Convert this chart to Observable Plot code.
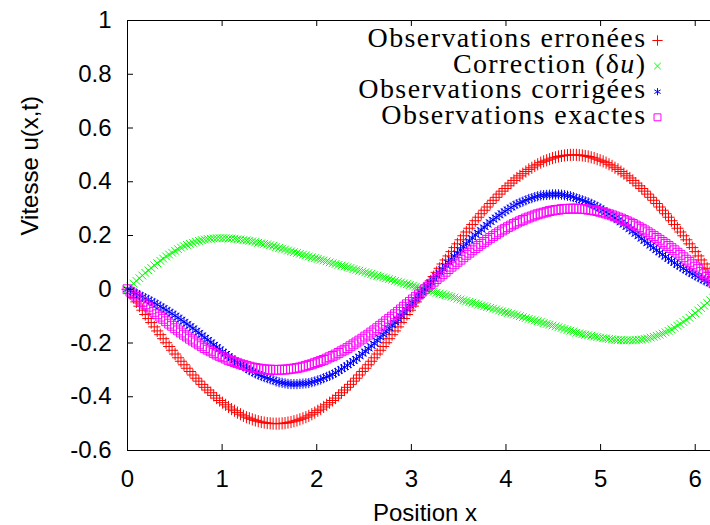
<!DOCTYPE html>
<html><head><meta charset="utf-8">
<script src="https://cdn.jsdelivr.net/npm/d3@7"></script>
<script src="https://cdn.jsdelivr.net/npm/@observablehq/plot@0.6"></script>
<style>
html,body{margin:0;padding:0;background:#fff;overflow:hidden;}
</style></head><body><div id="chart"></div>
<script>
const xs = [0,0.031,0.063,0.094,0.126,0.157,0.188,0.220,0.251,0.283,
0.314,0.346,0.377,0.408,0.440,0.471,0.503,0.534,0.565,0.597,
0.628,0.660,0.691,0.723,0.754,0.785,0.817,0.848,0.880,0.911,
0.942,0.974,1.005,1.037,1.068,1.100,1.131,1.162,1.194,1.225,
1.257,1.288,1.319,1.351,1.382,1.414,1.445,1.477,1.508,1.539,
1.571,1.602,1.634,1.665,1.696,1.728,1.759,1.791,1.822,1.854,
1.885,1.916,1.948,1.979,2.011,2.042,2.073,2.105,2.136,2.168,
2.199,2.231,2.262,2.293,2.325,2.356,2.388,2.419,2.450,2.482,
2.513,2.545,2.576,2.608,2.639,2.670,2.702,2.733,2.765,2.796,
2.827,2.859,2.890,2.922,2.953,2.985,3.016,3.047,3.079,3.110,
3.142,3.173,3.204,3.236,3.267,3.299,3.330,3.362,3.393,3.424,
3.456,3.487,3.519,3.550,3.581,3.613,3.644,3.676,3.707,3.738,
3.770,3.801,3.833,3.864,3.896,3.927,3.958,3.990,4.021,4.053,
4.084,4.115,4.147,4.178,4.210,4.241,4.273,4.304,4.335,4.367,
4.398,4.430,4.461,4.492,4.524,4.555,4.587,4.618,4.650,4.681,
4.712,4.744,4.775,4.807,4.838,4.869,4.901,4.932,4.964,4.995,
5.027,5.058,5.089,5.121,5.152,5.184,5.215,5.246,5.278,5.309,
5.341,5.372,5.404,5.435,5.466,5.498,5.529,5.561,5.592,5.623,
5.655,5.686,5.718,5.749,5.781,5.812,5.843,5.875,5.906,5.938,
5.969,6.000,6.032,6.063,6.095,6.126,6.158,6.189,6.220,6.252,
6.283];

const erronees = [0,-0.016,-0.031,-0.047,-0.063,-0.078,-0.094,-0.109,-0.124,-0.140,
-0.155,-0.169,-0.184,-0.199,-0.213,-0.227,-0.241,-0.255,-0.268,-0.281,
-0.294,-0.306,-0.319,-0.331,-0.342,-0.354,-0.365,-0.375,-0.385,-0.395,
-0.405,-0.414,-0.422,-0.430,-0.438,-0.446,-0.452,-0.459,-0.465,-0.471,
-0.476,-0.480,-0.484,-0.488,-0.491,-0.494,-0.496,-0.498,-0.499,-0.500,
-0.500,-0.500,-0.499,-0.498,-0.496,-0.494,-0.491,-0.488,-0.484,-0.480,
-0.476,-0.471,-0.465,-0.459,-0.452,-0.446,-0.438,-0.430,-0.422,-0.414,
-0.405,-0.395,-0.385,-0.375,-0.365,-0.354,-0.342,-0.331,-0.319,-0.306,
-0.294,-0.281,-0.268,-0.255,-0.241,-0.227,-0.213,-0.199,-0.184,-0.169,
-0.155,-0.140,-0.124,-0.109,-0.094,-0.078,-0.063,-0.047,-0.031,-0.016,
0,0.016,0.031,0.047,0.063,0.078,0.094,0.109,0.124,0.140,
0.155,0.169,0.184,0.199,0.213,0.227,0.241,0.255,0.268,0.281,
0.294,0.306,0.319,0.331,0.342,0.354,0.365,0.375,0.385,0.395,
0.405,0.414,0.422,0.430,0.438,0.446,0.452,0.459,0.465,0.471,
0.476,0.480,0.484,0.488,0.491,0.494,0.496,0.498,0.499,0.500,
0.500,0.500,0.499,0.498,0.496,0.494,0.491,0.488,0.484,0.480,
0.476,0.471,0.465,0.459,0.452,0.446,0.438,0.430,0.422,0.414,
0.405,0.395,0.385,0.375,0.365,0.354,0.342,0.331,0.319,0.306,
0.294,0.281,0.268,0.255,0.241,0.227,0.213,0.199,0.184,0.169,
0.155,0.140,0.124,0.109,0.094,0.078,0.063,0.047,0.031,0.016,
0];

const correction = [0,0.010,0.021,0.031,0.041,0.051,0.061,0.070,0.079,0.089,
0.097,0.106,0.114,0.122,0.129,0.136,0.143,0.149,0.155,0.160,
0.165,0.169,0.173,0.177,0.180,0.183,0.185,0.187,0.188,0.189,
0.190,0.190,0.190,0.190,0.189,0.189,0.188,0.186,0.185,0.183,
0.182,0.180,0.178,0.176,0.173,0.171,0.169,0.167,0.164,0.162,
0.157,0.154,0.151,0.148,0.144,0.141,0.138,0.135,0.132,0.129,
0.126,0.122,0.119,0.116,0.113,0.110,0.107,0.104,0.100,0.097,
0.094,0.091,0.088,0.085,0.082,0.079,0.075,0.072,0.069,0.066,
0.063,0.060,0.057,0.053,0.050,0.047,0.044,0.041,0.038,0.035,
0.031,0.028,0.025,0.022,0.019,0.016,0.013,0.009,0.006,0.003,
0,-0.003,-0.006,-0.009,-0.013,-0.016,-0.019,-0.022,-0.025,-0.028,
-0.031,-0.035,-0.038,-0.041,-0.044,-0.047,-0.050,-0.053,-0.057,-0.060,
-0.063,-0.066,-0.069,-0.072,-0.075,-0.079,-0.082,-0.085,-0.088,-0.091,
-0.094,-0.097,-0.100,-0.104,-0.107,-0.110,-0.113,-0.116,-0.119,-0.122,
-0.126,-0.129,-0.132,-0.135,-0.138,-0.141,-0.144,-0.148,-0.151,-0.154,
-0.157,-0.162,-0.164,-0.167,-0.169,-0.171,-0.173,-0.176,-0.178,-0.180,
-0.182,-0.183,-0.185,-0.186,-0.188,-0.189,-0.189,-0.190,-0.190,-0.190,
-0.190,-0.189,-0.188,-0.187,-0.185,-0.183,-0.180,-0.177,-0.173,-0.169,
-0.165,-0.160,-0.155,-0.149,-0.143,-0.136,-0.129,-0.122,-0.114,-0.106,
-0.097,-0.089,-0.079,-0.070,-0.061,-0.051,-0.041,-0.031,-0.021,-0.010,
0];

const corrigees = [0,-0.005,-0.011,-0.016,-0.022,-0.028,-0.033,-0.039,-0.045,-0.051,
-0.057,-0.064,-0.070,-0.077,-0.084,-0.091,-0.098,-0.106,-0.113,-0.121,
-0.129,-0.137,-0.145,-0.154,-0.162,-0.171,-0.180,-0.188,-0.197,-0.206,
-0.215,-0.223,-0.232,-0.240,-0.249,-0.257,-0.265,-0.273,-0.280,-0.287,
-0.294,-0.301,-0.307,-0.313,-0.318,-0.323,-0.327,-0.331,-0.335,-0.338,
-0.343,-0.346,-0.348,-0.350,-0.352,-0.353,-0.353,-0.353,-0.352,-0.351,
-0.350,-0.349,-0.346,-0.343,-0.339,-0.336,-0.331,-0.326,-0.322,-0.317,
-0.311,-0.304,-0.297,-0.290,-0.283,-0.275,-0.267,-0.259,-0.250,-0.240,
-0.231,-0.221,-0.211,-0.202,-0.191,-0.180,-0.169,-0.158,-0.146,-0.134,
-0.124,-0.112,-0.099,-0.087,-0.075,-0.062,-0.050,-0.038,-0.025,-0.013,
0,0.013,0.025,0.038,0.050,0.062,0.075,0.087,0.099,0.112,
0.124,0.134,0.146,0.158,0.169,0.180,0.191,0.202,0.211,0.221,
0.231,0.240,0.250,0.259,0.267,0.275,0.283,0.290,0.297,0.304,
0.311,0.317,0.322,0.326,0.331,0.336,0.339,0.343,0.346,0.349,
0.350,0.351,0.352,0.353,0.353,0.353,0.352,0.350,0.348,0.346,
0.343,0.338,0.335,0.331,0.327,0.323,0.318,0.313,0.307,0.301,
0.294,0.287,0.280,0.273,0.265,0.257,0.249,0.240,0.232,0.223,
0.215,0.206,0.197,0.188,0.180,0.171,0.162,0.154,0.145,0.137,
0.129,0.121,0.113,0.106,0.098,0.091,0.084,0.077,0.070,0.064,
0.057,0.051,0.045,0.039,0.033,0.028,0.022,0.016,0.011,0.005,
0];

const exactes = [0,-0.009,-0.019,-0.028,-0.038,-0.047,-0.056,-0.065,-0.075,-0.084,
-0.093,-0.102,-0.110,-0.119,-0.128,-0.136,-0.145,-0.153,-0.161,-0.169,
-0.176,-0.184,-0.191,-0.198,-0.205,-0.212,-0.219,-0.225,-0.231,-0.237,
-0.243,-0.248,-0.253,-0.258,-0.263,-0.267,-0.271,-0.275,-0.279,-0.282,
-0.285,-0.288,-0.291,-0.293,-0.295,-0.296,-0.298,-0.299,-0.299,-0.300,
-0.300,-0.300,-0.299,-0.299,-0.298,-0.296,-0.295,-0.293,-0.291,-0.288,
-0.285,-0.282,-0.279,-0.275,-0.271,-0.267,-0.263,-0.258,-0.253,-0.248,
-0.243,-0.237,-0.231,-0.225,-0.219,-0.212,-0.205,-0.198,-0.191,-0.184,
-0.176,-0.169,-0.161,-0.153,-0.145,-0.136,-0.128,-0.119,-0.110,-0.102,
-0.093,-0.084,-0.075,-0.065,-0.056,-0.047,-0.038,-0.028,-0.019,-0.009,
0,0.009,0.019,0.028,0.038,0.047,0.056,0.065,0.075,0.084,
0.093,0.102,0.110,0.119,0.128,0.136,0.145,0.153,0.161,0.169,
0.176,0.184,0.191,0.198,0.205,0.212,0.219,0.225,0.231,0.237,
0.243,0.248,0.253,0.258,0.263,0.267,0.271,0.275,0.279,0.282,
0.285,0.288,0.291,0.293,0.295,0.296,0.298,0.299,0.299,0.300,
0.300,0.300,0.299,0.299,0.298,0.296,0.295,0.293,0.291,0.288,
0.285,0.282,0.279,0.275,0.271,0.267,0.263,0.258,0.253,0.248,
0.243,0.237,0.231,0.225,0.219,0.212,0.205,0.198,0.191,0.184,
0.176,0.169,0.161,0.153,0.145,0.136,0.128,0.119,0.110,0.102,
0.093,0.084,0.075,0.065,0.056,0.047,0.038,0.028,0.019,0.009,
0];

const xTicks = [0, 1, 2, 3, 4, 5, 6];
const xTickLabels = ["0", "1", "2", "3", "4", "5", "6"];
const yTicks = [-0.6, -0.4, -0.2, 0, 0.2, 0.4, 0.6, 0.8, 1];
const yTickLabels = ["-0.6", "-0.4", "-0.2", "0", "0.2", "0.4", "0.6", "0.8", "1"];
const xTitle = "Position x";
const yTitle = "Vitesse u(x,t)";
const legendLabels = ["Observations erronées", "Correction (δu)", "Observations corrigées", "Observations exactes"];
const seriesValues = [erronees, correction, corrigees, exactes];
const colors = ["#ff0000", "#00ff00", "#0000ff", "#ff00ff"];
const symbols = ["plus", "times", "asterisk", "square"];
const symbolR = [4, 3.6, 4.8, 5];
const legendR = [3.4, 3.1, 3.4, 3.9];

const W = 710, H = 525, mT = 20, mB = 75, mL = 127;
const innerH = H - mT - mB;
const innerW = W - mL;
const tickLen = 6;
const xLab = new Map(xTicks.map((d, i) => [d, xTickLabels[i]]));
const yLab = new Map(yTicks.map((d, i) => [d, yTickLabels[i]]));
const xMax = xs[xs.length - 1];

const marks = [];
seriesValues.forEach((vals, s) => {
  marks.push(Plot.dot(xs, {x: xs, y: vals, symbol: symbols[s], r: symbolR[s], stroke: colors[s], fill: "none", strokeWidth: 1}));
});
marks.push(
  Plot.ruleX([xTicks[0]], {y1: yTicks[0], y2: yTicks[yTicks.length - 1], stroke: "#000"}),
  Plot.ruleY([yTicks[0], yTicks[yTicks.length - 1]], {x1: xTicks[0], x2: xMax, stroke: "#000"}),
  Plot.tickX(xTicks, {x: d => d, insetTop: innerH - tickLen, stroke: "#000"}),
  Plot.tickX(xTicks, {x: d => d, insetBottom: innerH - tickLen, stroke: "#000"}),
  Plot.tickY(yTicks, {y: d => d, insetRight: innerW - tickLen, stroke: "#000"}),
  Plot.axisX({ticks: xTicks, tickFormat: d => xLab.get(d), tickSize: 0, tickPadding: 19, fontSize: 24, label: null}),
  Plot.axisY({ticks: yTicks, tickFormat: d => yLab.get(d), tickSize: 0, tickPadding: 16, fontSize: 24, label: null}),
  Plot.text([yTitle], {x: null, y: null, frameAnchor: "left", dx: -97, rotate: -90, fontSize: 24, text: d => d}),
  Plot.text([xTitle], {x: null, y: null, frameAnchor: "bottom", dx: 6, dy: 70, fontSize: 24, text: d => d})
);
legendLabels.forEach((lab, i) => {
  marks.push(Plot.text([lab], {x: null, y: null, frameAnchor: "top-right", textAnchor: "end", lineAnchor: "middle", dx: -64, dy: 17.5 + i * 25.6, fontFamily: "Liberation Serif, Times New Roman, serif", fontSize: 28, text: d => d}));
  marks.push(Plot.dot([lab], {x: null, y: null, frameAnchor: "top-right", dx: -53, dy: 20 + i * 25.6, symbol: symbols[i], r: legendR[i], stroke: colors[i], fill: "none", strokeWidth: 1}));
});

const svg = Plot.plot({
  width: W, height: H,
  marginTop: mT, marginBottom: mB, marginLeft: mL, marginRight: 0,
  x: {domain: [0, xMax], range: [mL, 721.5]},
  y: {domain: [yTicks[0], yTicks[yTicks.length - 1]]},
  style: {fontFamily: "Liberation Sans, Arial, sans-serif", fontSize: "24px", color: "#000", background: "#fff", overflow: "hidden"},
  marks
});
document.getElementById("chart").appendChild(svg);

// letter spacing for legend text and italic math u
d3.select(svg).selectAll("text").each(function() {
  const t = this.textContent;
  if (legendLabels.includes(t)) {
    this.style.letterSpacing = "1.4px";
  }
  if (t === legendLabels[1]) {
    const el = d3.select(this);
    el.text(null);
    el.append("tspan").text("Correction (δ");
    el.append("tspan").attr("font-style", "italic").text("u");
    el.append("tspan").text(")");
  }
});
</script></body></html>
